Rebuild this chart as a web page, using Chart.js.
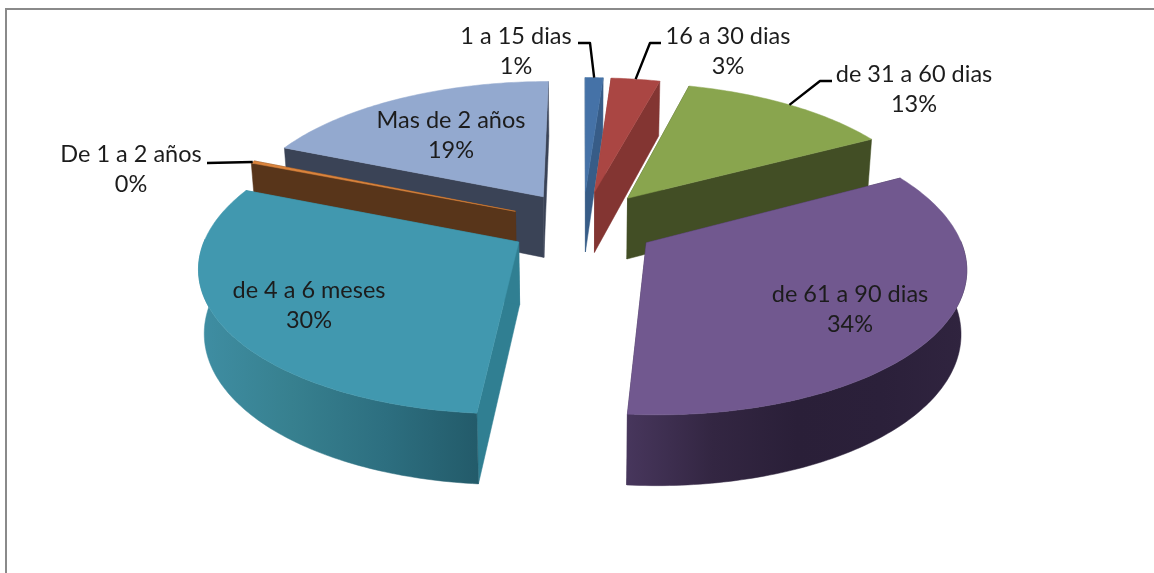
<!DOCTYPE html>
<html>
<head>
<meta charset="utf-8">
<title>Pie 3D</title>
<script src="https://cdn.jsdelivr.net/npm/chart.js@4"></script>
<style>
    html, body { margin: 0; padding: 0; background: #fff; overflow: hidden; }
    #wrap { position: relative; width: 1154px; height: 573px; }
    #frame { position: absolute; left: 5px; top: 8px; right: -10px; bottom: -10px; border: 2px solid #8a8a8a; }
    #pie { position: absolute; left: 0; top: 0; }
</style>
</head>
<body>
<div id="wrap">
    <div id="frame"></div>
    <canvas id="pie" width="1154" height="573"></canvas>
</div>
<script>
// Data
const categories = ['1 a 15 dias', '16 a 30 dias', 'de 31 a 60 dias', 'de 61 a 90 dias', 'de 4 a 6 meses', 'De 1 a 2 años', 'Mas de 2 años'];
const shares = [1.1, 3, 13, 34.2, 29.8, 0.3, 18.6];

// Slice styles
const topColors = ['#4572a7', '#aa4643', '#89a54e', '#71588f', '#4198af', '#db843d', '#93a9cf'];
const wallColors = ['#375c87', '#833532', '#424e25', '#3d2e4f', '#307f92', '#58351a', '#3a4356'];
const rimStops = [
    ['#375c87', '#375c87'], ['#833532', '#833532'], ['#424e25', '#424e25'],
    ['#47365c', '#332642', '#2a1f38', '#2b203a', '#30243f'],
    ['#3f8ea3', '#37808f', '#2d6f80', '#235b6a'],
    ['#58351a', '#58351a'], ['#3a4356', '#3a4356']
];
const explode = [0.24, 0.24, 0.24, 0.24, 0.24, 0.24, 0.24];

// Where the text sits: x, y of first line; leader = elbow points from label to the slice rim
const labelSpots = [
    { x: 516, y: 36, leader: [[578, 43], [590, 43]] },
    { x: 728, y: 36, leader: [[661, 43], [650, 43]] },
    { x: 914, y: 74, leader: [[832, 81], [820, 81]] },
    { x: 850, y: 294 },
    { x: 309, y: 290 },
    { x: 131, y: 154, leader: [[207, 163]] },
    { x: 451, y: 120 }
];

// Perspective of the tilted pie, all relative to the arc the library laid out
const view = { stretchX: 1.078, squashY: 0.489, lift: 62.5, perspective: 0.15, depth: 62, depthPersp: 0.11, floorShrink: 0.015 };

function project(arc, nx, ny, nz) {
    const r = arc.outerRadius;
    const w = 1 / (1 - view.perspective * ny);
    const dw = 1 / (1 - view.depthPersp * ny);
    return [
        arc.x + r * view.stretchX * nx * w * (1 - view.floorShrink * nz),
        arc.y - view.lift + r * view.squashY * ny * w + view.depth * nz * dw
    ];
}

function sliceGeometry(arc, index) {
    const mid = (arc.startAngle + arc.endAngle) / 2;
    return {
        mid: mid,
        ox: Math.cos(mid) * explode[index],
        oy: Math.sin(mid) * explode[index]
    };
}

function rimPoint(arc, g, angle, z) {
    return project(arc, g.ox + Math.cos(angle), g.oy + Math.sin(angle), z);
}

function fillPath(ctx, pts, fill) {
    ctx.beginPath();
    pts.forEach((p, i) => i ? ctx.lineTo(p[0], p[1]) : ctx.moveTo(p[0], p[1]));
    ctx.closePath();
    ctx.fillStyle = fill;
    ctx.fill();
    ctx.strokeStyle = fill;
    ctx.lineWidth = 0.5;
    ctx.stroke();
}

function drawSlice(ctx, arc, index) {
    const g = sliceGeometry(arc, index);
    const steps = Math.max(2, Math.ceil((arc.endAngle - arc.startAngle) * 60));
    const angles = [];
    for (let i = 0; i <= steps; i++) {
        angles.push(arc.startAngle + (arc.endAngle - arc.startAngle) * i / steps);
    }

    // radial walls
    [arc.startAngle, arc.endAngle].forEach(a => {
        fillPath(ctx, [
            project(arc, g.ox, g.oy, 0),
            rimPoint(arc, g, a, 0),
            rimPoint(arc, g, a, 1),
            project(arc, g.ox, g.oy, 1)
        ], wallColors[index]);
    });

    // outer wall, only the part that faces the viewer
    const front = angles.filter(a => Math.sin(a) >= -0.02);
    if (front.length > 1) {
        const xs = front.map(a => rimPoint(arc, g, a, 0)[0]);
        const grad = ctx.createLinearGradient(Math.min(...xs), 0, Math.max(...xs), 0);
        const stops = rimStops[index];
        stops.forEach((c, i) => grad.addColorStop(i / (stops.length - 1), c));
        const pts = front.map(a => rimPoint(arc, g, a, 0))
            .concat(front.slice().reverse().map(a => rimPoint(arc, g, a, 1)));
        fillPath(ctx, pts, grad);
    }

    // top face
    fillPath(ctx, [project(arc, g.ox, g.oy, 0)].concat(angles.map(a => rimPoint(arc, g, a, 0))), topColors[index]);
}

const pie3d = {
    id: 'pie3d',
    beforeDatasetDraw(chart, args) {
        const ctx = chart.ctx;
        const arcs = chart.getDatasetMeta(args.index).data;
        // back slices first
        const order = arcs.map((arc, i) => i).sort((a, b) =>
            Math.sin(sliceGeometry(arcs[a], a).mid) - Math.sin(sliceGeometry(arcs[b], b).mid));
        order.forEach(i => drawSlice(ctx, arcs[i], i));
        return false;
    },
    afterDatasetsDraw(chart) {
        const ctx = chart.ctx;
        const arcs = chart.getDatasetMeta(0).data;
        ctx.save();
        ctx.strokeStyle = '#000';
        ctx.lineWidth = 2.4;
        ctx.lineJoin = 'round';
        labelSpots.forEach((spot, i) => {
            if (!spot.leader) return;
            const g = sliceGeometry(arcs[i], i);
            const end = rimPoint(arcs[i], g, g.mid, 0);
            ctx.beginPath();
            spot.leader.forEach((p, k) => k ? ctx.lineTo(p[0], p[1]) : ctx.moveTo(p[0], p[1]));
            ctx.lineTo(end[0], end[1]);
            ctx.stroke();
        });
        ctx.fillStyle = '#1c1c1c';
        ctx.font = '23.5px Lato';
        ctx.textAlign = 'center';
        ctx.textBaseline = 'middle';
        ctx.filter = 'blur(0.4px)';
        labelSpots.forEach((spot, i) => {
            ctx.fillText(categories[i], spot.x, spot.y);
            ctx.fillText(Math.round(shares[i]) + '%', spot.x, spot.y + 30);
        });
        ctx.restore();
    }
};

new Chart(document.getElementById('pie').getContext('2d'), {
    type: 'pie',
    data: {
        labels: categories,
        datasets: [{ data: shares, backgroundColor: topColors, borderWidth: 0 }]
    },
    options: {
        responsive: false,
        animation: false,
        layout: { padding: { left: 12 } },
        plugins: { legend: { display: false }, tooltip: { enabled: false } }
    },
    plugins: [pie3d]
});
</script>
</body>
</html>
